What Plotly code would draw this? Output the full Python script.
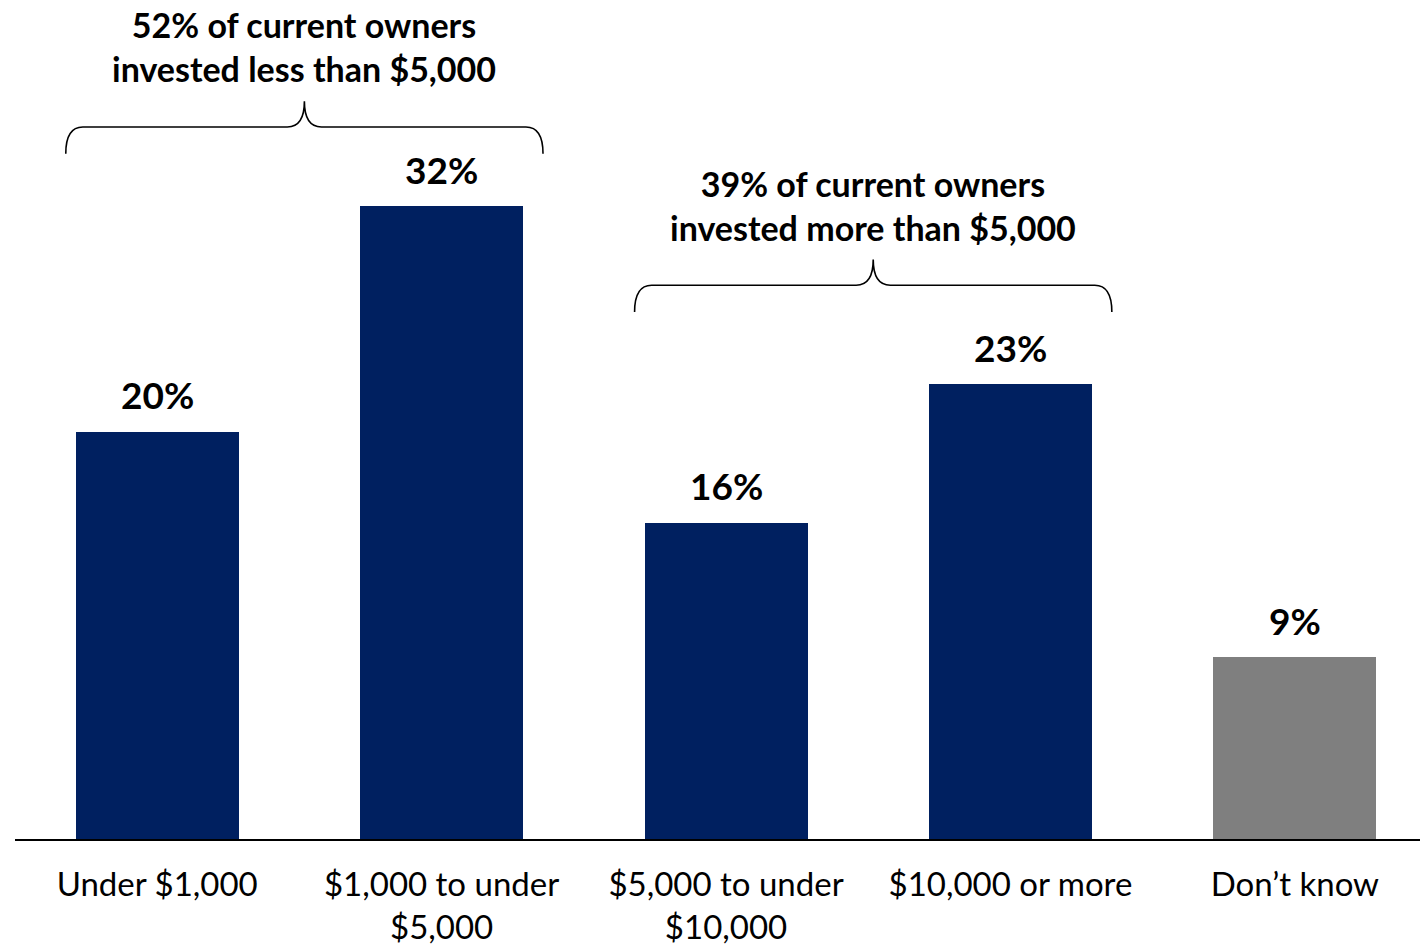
import plotly.graph_objects as go

categories = ["Under $1,000", "$1,000 to under<br>$5,000", "$5,000 to under<br>$10,000",
              "$10,000 or more", "Don’t know"]
values = [20.6, 32.0, 16.0, 23.0, 9.2]
value_labels = ["20%", "32%", "16%", "23%", "9%"]
bar_colors = ["#002060", "#002060", "#002060", "#002060", "#7F7F7F"]

group_texts = ["52% of current owners<br>invested less than $5,000",
               "39% of current owners<br>invested more than $5,000"]
group_spans = [(0, 1), (2, 3)]
brace_levels = [34.65, 26.65]   # bottom of brace ends (data units)
group_text_y = [40.05, 32.05]   # vertical centre of the group texts (data units)

FONT = "Lato"
BAR_W = 0.573

x_idx = list(range(len(categories)))

fig = go.Figure()
fig.add_trace(go.Bar(x=x_idx, y=values, marker=dict(color=bar_colors, line=dict(width=0)),
                     width=BAR_W, hoverinfo="skip"))

for i, (v, lab) in enumerate(zip(values, value_labels)):
    fig.add_annotation(x=i, y=v, text=f"<b>{lab}</b>", showarrow=False,
                       yanchor="middle", yshift=37,
                       font=dict(family=FONT, size=37, color="#000000"))


def brace_path(x0, x1, yb, rise=1.35, peak=1.3, rx=0.06):
    yh = yb + rise
    yt = yh + peak
    xc = (x0 + x1) / 2
    return (f"M {x0},{yb} Q {x0},{yh} {x0+rx},{yh} L {xc-rx},{yh} "
            f"Q {xc},{yh} {xc},{yt} Q {xc},{yh} {xc+rx},{yh} L {x1-rx},{yh} "
            f"Q {x1},{yh} {x1},{yb}")


for (a, b), yb, ty, txt in zip(group_spans, brace_levels, group_text_y, group_texts):
    x0 = a - BAR_W / 2 - 0.035
    x1 = b + BAR_W / 2 + 0.07
    fig.add_shape(type="path", path=brace_path(x0, x1, yb), xref="x", yref="y",
                  line=dict(color="#000000", width=1.6))
    xc = (x0 + x1) / 2
    fig.add_annotation(x=xc, y=ty, text=f"<b>{txt}</b>", showarrow=False,
                       yanchor="middle", align="center",
                       font=dict(family=FONT, size=34, color="#000000"))

fig.update_layout(
    width=1420, height=948,
    margin=dict(l=15, r=0, t=0, b=109, autoexpand=False),
    paper_bgcolor="white", plot_bgcolor="white",
    showlegend=False, bargap=0,
    font=dict(family=FONT, color="#000000"),
)
fig.update_xaxes(range=[-0.5, 4.44], tickmode="array", tickvals=x_idx, ticktext=categories,
                 automargin=False,
                 showgrid=False, zeroline=False, showline=True, linecolor="#000000", linewidth=2,
                 ticks="", ticklabelstandoff=15, tickfont=dict(family=FONT, size=33, color="#000000"))
fig.update_yaxes(range=[0, 42.42], visible=False, showgrid=False, zeroline=False, automargin=False)

fig.write_html("out.html", config={"displayModeBar": False},
               post_script="document.body.style.margin='0';document.body.style.padding='0';")
